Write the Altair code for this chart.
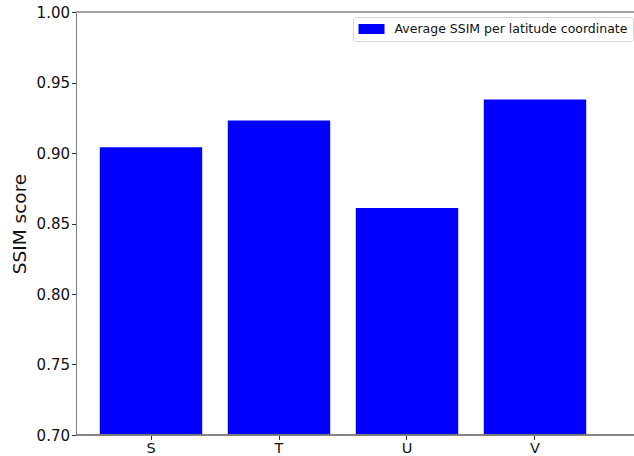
import altair as alt
import pandas as pd

# Average SSIM score per latitude band
categories = ["S", "T", "U", "V"]
ssim_values = [0.904, 0.923, 0.861, 0.938]
series_name = "Average SSIM per latitude coordinate"

df = pd.DataFrame({"band": categories, "ssim": ssim_values})

FONT = "DejaVu Sans"
W, H = 558, 423
SPINE = "#7f7f7f"

x_enc = alt.X(
    "band:N",
    sort=categories,
    title=None,
    scale=alt.Scale(range=[0, 534], paddingInner=0.2, paddingOuter=0.186),
    axis=alt.Axis(
        labelAngle=0, labelFontSize=14.5, labelFont=FONT, labelColor="#111",
        tickSize=4.5, tickColor="#333", domain=False, labelPadding=1.5,
        grid=False,
    ),
)

y_enc = alt.Y(
    "ssim:Q",
    title="SSIM score",
    scale=alt.Scale(domain=[0.70, 1.00], zero=False, nice=False),
    axis=alt.Axis(
        values=[0.70, 0.75, 0.80, 0.85, 0.90, 0.95, 1.00], format=".2f",
        labelFontSize=15, labelFont=FONT, labelColor="#111",
        tickSize=4.5, tickColor="#333", domainColor=SPINE, labelPadding=2,
        titleFontSize=18.5, titleFont=FONT, titleFontWeight="normal",
        titleColor="#111", titlePadding=7, grid=False,
    ),
)

bars = alt.Chart(df).mark_bar(color="#0000ff", clip=True).encode(
    x=x_enc,
    y=y_enc,
    y2=alt.Y2(datum=0.70),
    color=alt.Color(
        "s:N",
        scale=alt.Scale(domain=[series_name], range=["#0000ff"]),
        legend=alt.Legend(
            title=None, orient="none", legendX=277, legendY=5,
            symbolType="M-1,-0.77H3V0.77H-1Z", symbolSize=169,
            symbolStrokeWidth=0, symbolOpacity=1,
            labelFont=FONT, labelFontSize=12.5, labelColor="#111",
            labelLimit=0, labelOffset=23, padding=5.5,
            strokeColor="#d6d6d6", fillColor="white", cornerRadius=3,
        ),
    ),
).transform_calculate(s=f"'{series_name}'")

# frame lines along the top and bottom of the plot area
top_line = alt.Chart(df).mark_rule(color="#a0a0a0", strokeWidth=1).encode(
    x=alt.value(0), x2=alt.value(W), y=alt.value(0)
)
bottom_line = alt.Chart(df).mark_rule(color=SPINE, strokeWidth=1).encode(
    x=alt.value(0), x2=alt.value(W), y=alt.value(H)
)

chart = alt.layer(bars, top_line, bottom_line).properties(
    width=W, height=H,
    autosize=alt.AutoSizeParams(type="none"),
    padding={"left": 76, "top": 12, "right": 0, "bottom": 21},
).configure_view(stroke=None).configure(background="white")

chart.save("out.html", embed_options={"renderer": "svg", "actions": False})
